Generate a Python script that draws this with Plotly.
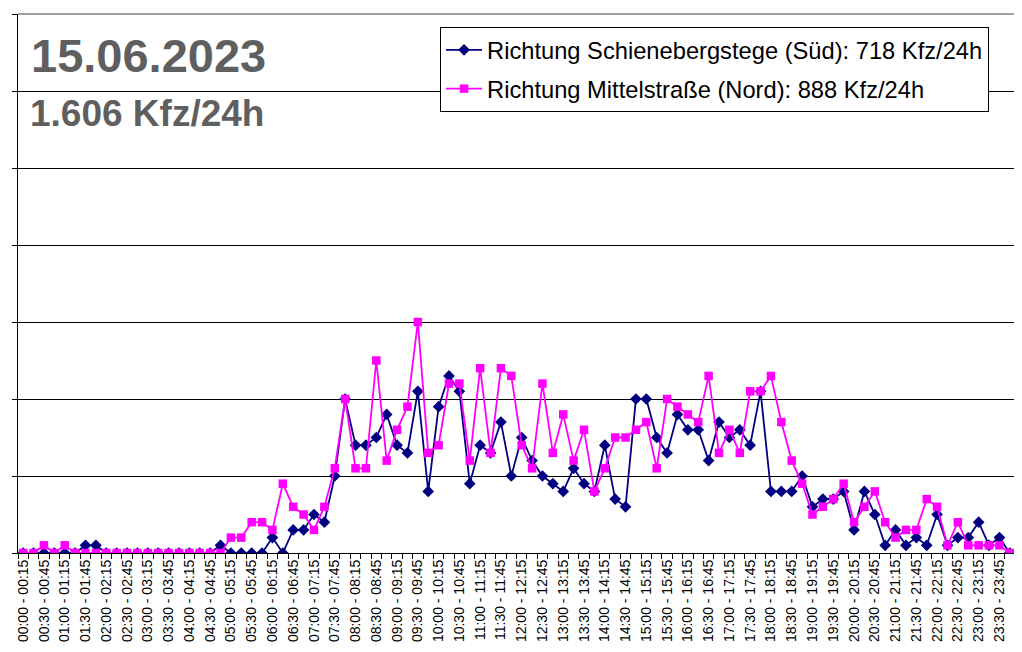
import plotly.graph_objects as go

# 15-minute intervals, labels "HH:MM - HH:MM"
starts = [f"{h:02d}:{m:02d}" for h in range(24) for m in (0, 15, 30, 45)]
ends = starts[1:] + ["24:00"]
categories = [f"{a} - {b}" for a, b in zip(starts, ends)]

sued_name = "Richtung Schienebergstege (Süd): 718 Kfz/24h"
nord_name = "Richtung Mittelstraße (Nord): 888 Kfz/24h"

sued = [0, 0, 0, 0, 0, 0, 1, 1, 0, 0, 0, 0, 0, 0, 0, 0, 0, 0, 0, 1,
        0, 0, 0, 0, 2, 0, 3, 3, 5, 4, 10, 20, 14, 14, 15, 18, 14, 13, 21, 8,
        19, 23, 21, 9, 14, 13, 17, 10, 15, 12, 10, 9, 8, 11, 9, 8, 14, 7, 6, 20,
        20, 15, 13, 18, 16, 16, 12, 17, 15, 16, 14, 21, 8, 8, 8, 10, 6, 7, 7, 8,
        3, 8, 5, 1, 3, 1, 2, 1, 5, 1, 2, 2, 4, 1, 2, 0]

nord = [0, 0, 1, 0, 1, 0, 0, 0, 0, 0, 0, 0, 0, 0, 0, 0, 0, 0, 0, 0,
        2, 2, 4, 4, 3, 9, 6, 5, 3, 6, 11, 20, 11, 11, 25, 12, 16, 19, 30, 13,
        14, 22, 22, 12, 24, 13, 24, 23, 14, 11, 22, 13, 18, 12, 16, 8, 11, 15, 15, 16,
        17, 11, 20, 19, 18, 17, 23, 13, 16, 13, 21, 21, 23, 17, 12, 9, 5, 6, 7, 9,
        4, 6, 8, 4, 2, 3, 3, 7, 6, 1, 4, 1, 1, 1, 1, 0]

title_date = "15.06.2023"
title_total = "1.606 Kfz/24h"

x = list(range(len(categories)))
tickvals = x[::2]
ticktext = categories[::2]

FONT = "Liberation Sans, Arial, sans-serif"

fig = go.Figure()
fig.add_trace(go.Scatter(
    x=x, y=sued, name=sued_name, mode="lines+markers",
    line=dict(color="#000080", width=1.8),
    marker=dict(symbol="diamond", size=9, color="#000080"),
    legendgroup="a",
))
fig.add_trace(go.Scatter(
    x=x, y=nord, name=nord_name, mode="lines+markers",
    line=dict(color="#FF00FF", width=1.8),
    marker=dict(symbol="square", size=8.5, color="#FF00FF"),
    legendgroup="b",
))

# page body has an 8px margin: figure is 1014x644, placed at (8,8)
fig.update_layout(
    width=1014, height=644,
    margin=dict(l=10, r=7, t=6, b=99),
    paper_bgcolor="white", plot_bgcolor="white",
    font=dict(family=FONT, color="black"),
    showlegend=True,
    legend=dict(
        x=0.4233, y=0.976, xanchor="left", yanchor="top",
        bgcolor="white", bordercolor="black", borderwidth=1,
        font=dict(size=23.7, family=FONT, color="black"),
        tracegroupgap=5, traceorder="grouped", itemwidth=36,
    ),
    xaxis=dict(
        range=[-0.5, 95.5], tickmode="array", tickvals=tickvals, ticktext=ticktext,
        tickangle=-90, ticks="", showgrid=False, zeroline=False, automargin=False,
        showline=True, linecolor="black", linewidth=1,
        tickfont=dict(size=14, family=FONT, color="black"),
        minor=dict(tickmode="linear", tick0=-0.5, dtick=1, ticks="outside",
                   ticklen=5, tickcolor="black", showgrid=False),
    ),
    yaxis=dict(
        range=[0, 70], dtick=10, showticklabels=False, ticks="outside", automargin=False,
        ticklen=5, tickcolor="black", showgrid=True, gridcolor="black",
        gridwidth=1, zeroline=False, showline=True, linecolor="black", linewidth=1,
    ),
    shapes=[
        dict(type="line", xref="paper", yref="paper", x0=0, x1=1, y0=1, y1=1,
             line=dict(color="#808080", width=1.5), layer="above"),
        dict(type="line", xref="paper", yref="paper", x0=1, x1=1, y0=0, y1=1,
             line=dict(color="#808080", width=1.5), layer="above"),
    ],
    annotations=[
        dict(text=f"<b>{title_date}</b>", xref="paper", yref="paper",
             x=0.011, y=0.923, xanchor="left", yanchor="middle", showarrow=False,
             font=dict(size=47, family=FONT, color="#5f5f5f")),
        dict(text=f"<b>{title_total}</b>", xref="paper", yref="paper",
             x=0.010, y=0.8145, xanchor="left", yanchor="middle", showarrow=False,
             font=dict(size=37, family=FONT, color="#5f5f5f")),
    ],
)

fig.write_html("out.html")
